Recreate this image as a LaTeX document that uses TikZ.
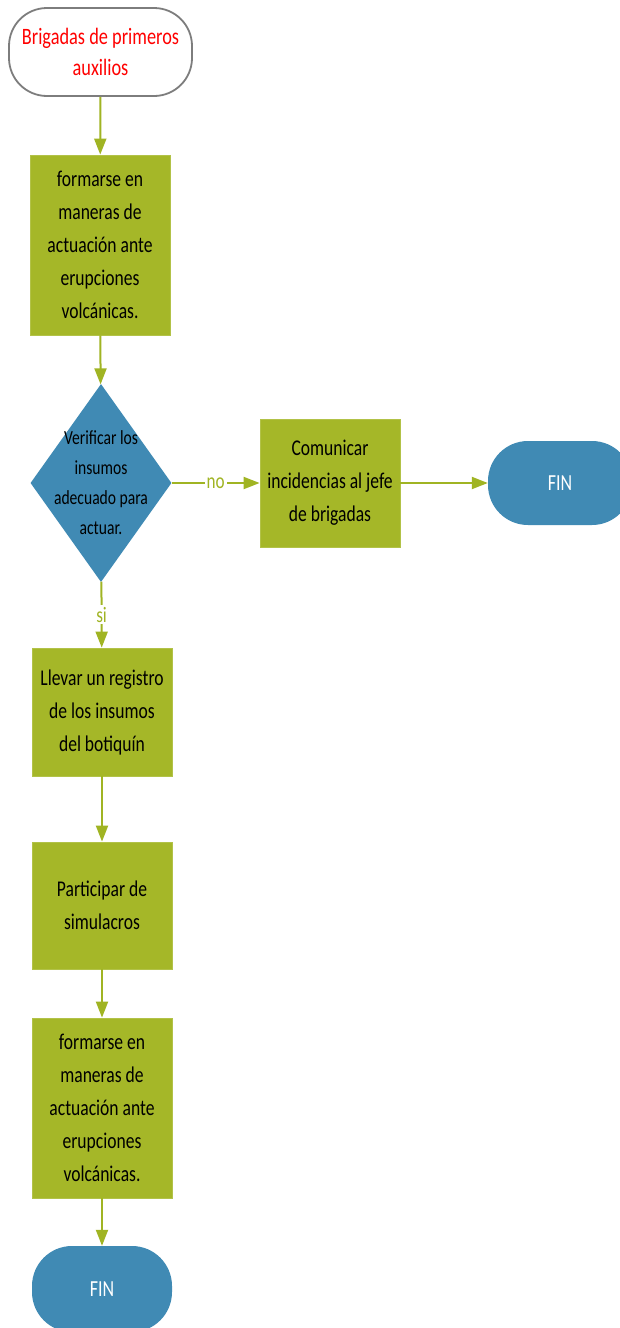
\documentclass[tikz,border=0pt]{standalone}
\usepackage{fontspec}
\setmainfont{Carlito}[FakeStretch=0.78]
\usetikzlibrary{arrows.meta,positioning,shapes.geometric}
\definecolor{olive}{RGB}{165,183,40}
\definecolor{oliveline}{RGB}{160,180,35}
\definecolor{steel}{RGB}{64,138,180}
\definecolor{rimgray}{RGB}{125,125,125}

\tikzset{
  stepbox/.style={rectangle,fill=olive,draw=olive!85!white,line width=0.8pt,minimum width=140pt,align=center,inner sep=0pt,font=\fontsize{22.5}{33}\selectfont},
  decision/.style={diamond,fill=steel,minimum width=141pt,minimum height=198pt,inner sep=0pt},
  terminal/.style={rectangle,rounded corners=40pt,fill=steel,minimum width=140pt,minimum height=86pt,text=white,font=\fontsize{23}{26}\selectfont},
  flow/.style={oliveline,line width=2pt,-{Triangle[width=12pt,length=16pt]}},
  lbl/.style={fill=white,text=oliveline,inner sep=2pt,font=\fontsize{22}{26}\selectfont}
}

\begin{document}
\begin{tikzpicture}[x=1pt,y=-1pt]
    \clip (0,0) rectangle (620,1328);
    \fill[white] (0,0) rectangle (620,1328);
    % inicio
    \node[rectangle,rounded corners=38pt,draw=rimgray,line width=1.8pt,fill=white,minimum width=183pt,minimum height=88pt,
      text=red,align=center,font=\fontsize{23.5}{31}\selectfont] (inicio) at (100.5,52) {Brigadas de primeros\\auxilios};
    \node[stepbox,minimum height=180pt] (formar) at (100,245) {formarse en\\maneras de\\actuación ante\\erupciones\\volcánicas.};
    \node[decision] (verif) at (101,483) {\makebox[0pt]{\smash{\raisebox{-6pt}{\fontsize{20}{30}\selectfont
      \begin{tabular}{@{}c@{}}Verificar los\\insumos\\adecuado para\\actuar.\end{tabular}}}}};
    \node[stepbox,minimum height=128pt] (comun) at (330,483) {Comunicar\\incidencias al jefe\\de brigadas};
    \node[terminal,minimum width=144pt,minimum height=84pt] (fin1) at (560,483) {FIN};
    \node[stepbox,minimum height=128pt] (registro) at (102,712) {Llevar un registro\\de los insumos\\del botiquín};
    \node[stepbox,minimum height=127pt] (simul) at (102,905.5) {Participar de\\simulacros};
    \node[stepbox,minimum height=180pt] (formar2) at (102,1108) {formarse en\\maneras de\\actuación ante\\erupciones\\volcánicas.};
    \node[terminal] (fin2) at (102,1289) {FIN};

    \draw[flow] (inicio) -- (formar);
    \draw[flow] (formar) -- (verif);
    \draw[flow] (verif) -- node[lbl]{no} (comun);
    \draw[flow] (comun) -- (fin1);
    \draw[flow] (verif) -- node[lbl]{si} (registro);
    \draw[flow] (registro) -- (simul);
    \draw[flow] (simul) -- (formar2);
    \draw[flow] (formar2) -- (fin2);
\end{tikzpicture}
\end{document}
